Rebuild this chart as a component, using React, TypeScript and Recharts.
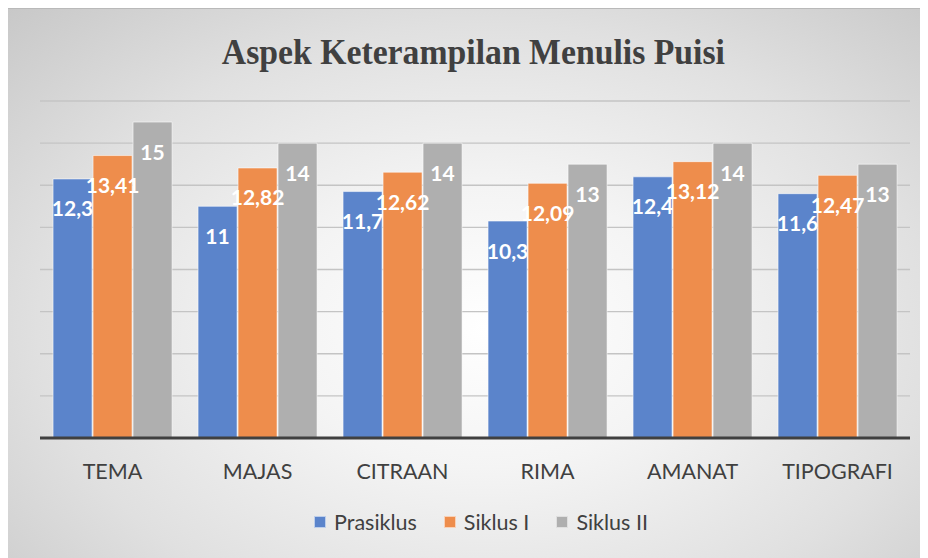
import React from "react";
import { BarChart, Bar, XAxis, YAxis, CartesianGrid, Legend, LabelList } from "recharts";

const categories = ["TEMA", "MAJAS", "CITRAAN", "RIMA", "AMANAT", "TIPOGRAFI"];
const prasiklus = [12.3, 11, 11.7, 10.3, 12.4, 11.6];
const siklus1 = [13.41, 12.82, 12.62, 12.09, 13.12, 12.47];
const siklus2 = [15, 14, 14, 13, 14, 13];
const seriesNames = ["Prasiklus", "Siklus I", "Siklus II"];
const yTicks = [0, 2, 4, 6, 8, 10, 12, 14, 16];

const data = categories.map((c, i) => ({
  name: c,
  p: prasiklus[i],
  s1: siklus1[i],
  s2: siklus2[i],
}));

const COLORS = ["#5b84cb", "#ee8d4c", "#afafaf"];
const FONT = "Lato, 'Open Sans', sans-serif";

const fmt = (v: number) => String(v).replace(".", ",");

const ValueLabel = (props: any) => {
  const { x, y, width, value } = props;
  return (
    <text
      x={Number(x) + Number(width) / 2}
      y={Number(y) + 29}
      fill="#ffffff"
      fontFamily={FONT}
      fontWeight={700}
      fontSize={21}
      textAnchor="middle"
      dominantBaseline="central"
    >
      {fmt(value)}
    </text>
  );
};

const LegendContent = () => (
  <div
    style={{
      display: "flex",
      justifyContent: "center",
      alignItems: "center",
      paddingTop: 21,
      paddingLeft: 12,
      fontFamily: FONT,
      fontSize: 21.5,
      color: "#404040",
    }}
  >
    {seriesNames.map((n, i) => (
      <div key={n} style={{ display: "flex", alignItems: "center", marginRight: i < 2 ? 27 : 0 }}>
        <span
          style={{
            display: "inline-block",
            width: 10,
            height: 10,
            background: COLORS[i],
            border: "1px solid rgba(255,255,255,0.6)",
            marginRight: 8,
          }}
        />
        <span>{n}</span>
      </div>
    ))}
  </div>
);

export default function App() {
  return (
    <div
      style={{
        position: "relative",
        width: 920,
        height: 550,
        background:
          "radial-gradient(ellipse 75% 85% at 52% 58%, #ffffff 0%, #f4f4f4 30%, #e0e0e0 65%, #c6c6c6 100%)",
        borderTop: "1px solid #b9b9b9",
        boxSizing: "border-box",
      }}
    >
      <div
        style={{
          position: "absolute",
          left: 5,
          top: 22,
          width: 920,
          textAlign: "center",
          fontFamily: "'Liberation Serif', 'DejaVu Serif', serif",
          fontWeight: 700,
          fontSize: 36,
          color: "#404040",
          transform: "scaleX(0.937)",
          transformOrigin: "466px 0",
        }}
      >
        Aspek Keterampilan Menulis Puisi
      </div>
      <div style={{ position: "absolute", left: 0, top: -1 }}>
        <BarChart
          width={920}
          height={550}
          data={data}
          margin={{ top: 93, right: 18, left: 32, bottom: 0 }}
          barCategoryGap="9%"
          barGap={1}
        >
          <CartesianGrid vertical={false} stroke="#c4c4c4" strokeWidth={1.3} />
          <YAxis hide domain={[0, 16]} ticks={yTicks} />
          <XAxis
            dataKey="name"
            height={50}
            axisLine={{ stroke: "#404040", strokeWidth: 3 }}
            tickLine={false}
            tick={{ fill: "#404040", fontSize: 21.5, fontFamily: FONT }}
            tickMargin={20}
          />
          <Legend
            verticalAlign="bottom"
            content={<LegendContent />}
            wrapperStyle={{ height: 70 }}
          />
          <Bar dataKey="p" name={seriesNames[0]} fill={COLORS[0]} stroke="rgba(255,255,255,0.55)" strokeWidth={1} isAnimationActive={false}>
            <LabelList dataKey="p" content={<ValueLabel />} />
          </Bar>
          <Bar dataKey="s1" name={seriesNames[1]} fill={COLORS[1]} stroke="rgba(255,255,255,0.55)" strokeWidth={1} isAnimationActive={false}>
            <LabelList dataKey="s1" content={<ValueLabel />} />
          </Bar>
          <Bar dataKey="s2" name={seriesNames[2]} fill={COLORS[2]} stroke="rgba(255,255,255,0.55)" strokeWidth={1} isAnimationActive={false}>
            <LabelList dataKey="s2" content={<ValueLabel />} />
          </Bar>
        </BarChart>
      </div>
    </div>
  );
}
